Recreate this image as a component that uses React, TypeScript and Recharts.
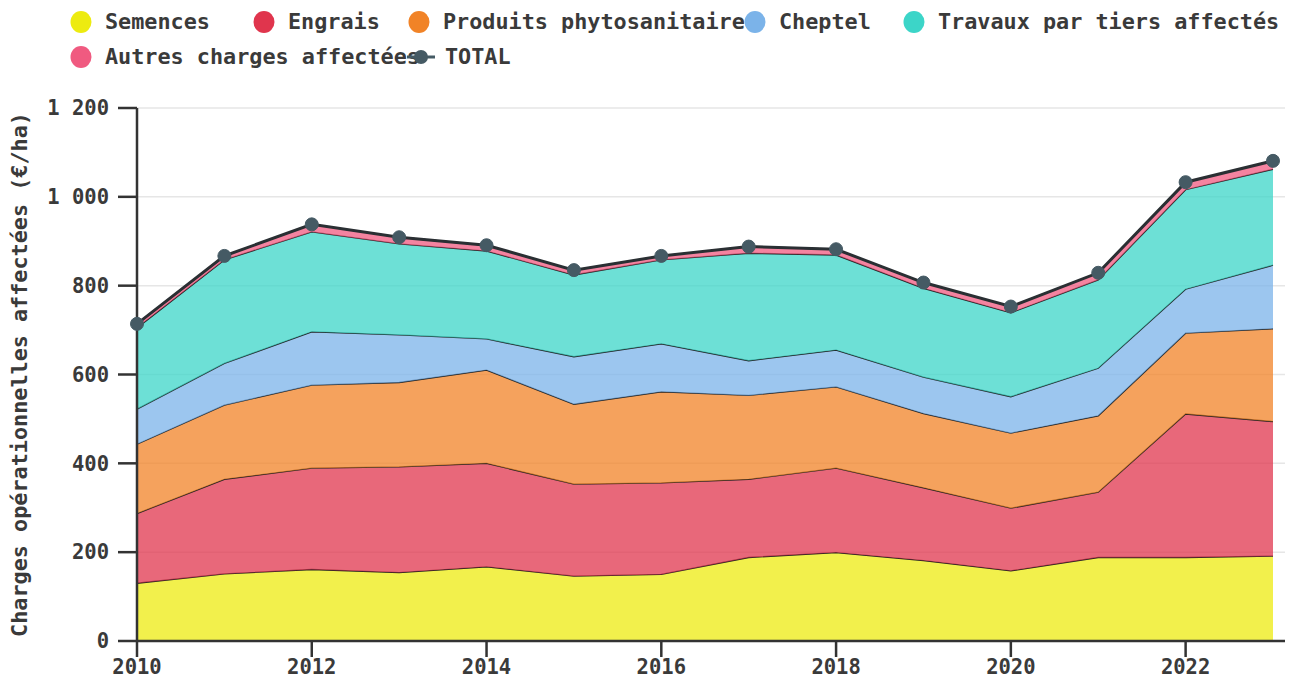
import React from "react";
import {
  ComposedChart,
  Area,
  Line,
  XAxis,
  YAxis,
  CartesianGrid,
  Legend,
} from "recharts";

const years = [2010, 2011, 2012, 2013, 2014, 2015, 2016, 2017, 2018, 2019, 2020, 2021, 2022, 2023];
const semences = [130, 151, 161, 154, 167, 146, 150, 188, 199, 181, 158, 188, 188, 191];
const engrais = [157, 213, 228, 238, 233, 207, 206, 176, 190, 164, 141, 147, 323, 303];
const phyto = [156, 167, 187, 190, 210, 180, 205, 189, 183, 167, 169, 172, 182, 209];
const cheptel = [79, 94, 120, 107, 70, 107, 108, 78, 83, 82, 82, 107, 99, 143];
const travaux = [183, 233, 225, 205, 198, 184, 189, 242, 214, 200, 189, 199, 224, 216];
const autres = [9, 9, 17, 15, 13, 11, 9, 15, 13, 13, 14, 16, 17, 19];
const total = [714, 867, 938, 909, 891, 835, 867, 888, 882, 807, 753, 829, 1033, 1081];

const xTicks = [2010, 2012, 2014, 2016, 2018, 2020, 2022];
const yTicks = [0, 200, 400, 600, 800, 1000, 1200];

const seriesNames = {
  semences: "Semences",
  engrais: "Engrais",
  phyto: "Produits phytosanitaires",
  cheptel: "Cheptel",
  travaux: "Travaux par tiers affectés",
  autres: "Autres charges affectées",
  total: "TOTAL",
};
const yTitle = "Charges opérationnelles affectées (€/ha)";

const colors = {
  semences: "#edeb10",
  engrais: "#e0354d",
  phyto: "#f18327",
  cheptel: "#7bb3e9",
  travaux: "#3cd5c8",
  autres: "#f05a80",
  total: "#455a64",
};

const data = years.map((y, i) => ({
  year: y,
  semences: semences[i],
  engrais: engrais[i],
  phyto: phyto[i],
  cheptel: cheptel[i],
  travaux: travaux[i],
  autres: autres[i],
  total: total[i],
}));

const FONT = "'DejaVu Sans Mono', monospace";
const TEXT = "#3a3a3a";

const legendLayout: { key: keyof typeof seriesNames; cx: number; cy: number }[] = [
  { key: "semences", cx: 81, cy: 21.5 },
  { key: "engrais", cx: 264, cy: 21.5 },
  { key: "phyto", cx: 419, cy: 21.5 },
  { key: "cheptel", cx: 755, cy: 21.5 },
  { key: "travaux", cx: 914, cy: 21.5 },
  { key: "autres", cx: 81, cy: 57 },
  { key: "total", cx: 421, cy: 57 },
];

const LegendContent = () => (
  <div style={{ position: "relative", width: 1297, height: 80 }}>
    {legendLayout.map((it) => (
      <React.Fragment key={it.key}>
        <div
          style={{
            position: "absolute",
            left: it.cx + 24,
            top: it.cy - 13,
            fontFamily: FONT,
            fontWeight: "bold",
            fontSize: 21.8,
            color: TEXT,
            whiteSpace: "nowrap",
            lineHeight: "26px",
          }}
        >
          {seriesNames[it.key]}
        </div>
        {it.key === "total" ? (
          <svg
            style={{ position: "absolute", left: it.cx - 16, top: it.cy - 10 }}
            width={32}
            height={20}
          >
            <line x1={2} y1={10} x2={30} y2={10} stroke={colors.total} strokeWidth={3} />
            <circle cx={16} cy={10} r={7} fill={colors.total} />
          </svg>
        ) : (
          <svg
            style={{ position: "absolute", left: it.cx - 11, top: it.cy - 11 }}
            width={22}
            height={22}
          >
            <ellipse cx={11} cy={11} rx={10.5} ry={11} fill={colors[it.key]} />
          </svg>
        )}
      </React.Fragment>
    ))}
  </div>
);

const fmt = (v: number) => {
  const s = String(v);
  return s.length > 3 ? s.slice(0, s.length - 3) + " " + s.slice(-3) : s;
};

export default function App() {
  const areaKeys: (keyof typeof seriesNames)[] = ["semences", "engrais", "phyto", "cheptel", "travaux", "autres"];
  return (
    <div style={{ position: "absolute", left: 0, top: 0, width: 1297, height: 684, background: "#fff" }}>
      <ComposedChart
        width={1297}
        height={684}
        data={data}
        margin={{ top: 28, right: 12, bottom: 0, left: 0 }}
      >
        <Legend
          verticalAlign="top"
          align="left"
          content={<LegendContent />}
          wrapperStyle={{ top: 0, left: 0, width: 1297, height: 80 }}
        />
        <CartesianGrid vertical={false} stroke="#e6e6e6" strokeWidth={1.5} />
        <XAxis
          dataKey="year"
          type="number"
          domain={[2010, 2023]}
          ticks={xTicks}
          padding={{ left: 0, right: 12 }}
          height={43}
          tickSize={16}
          tickMargin={2}
          axisLine={{ stroke: "#333", strokeWidth: 2.5 }}
          tickLine={{ stroke: "#333", strokeWidth: 2.5 }}
          tick={{ fill: TEXT, fontFamily: FONT, fontWeight: "bold", fontSize: 20.5 }}
        />
        <YAxis
          type="number"
          domain={[0, 1200]}
          ticks={yTicks}
          width={137}
          tickSize={19}
          tickMargin={9}
          tickFormatter={fmt}
          axisLine={{ stroke: "#333", strokeWidth: 2.5 }}
          tickLine={{ stroke: "#333", strokeWidth: 2.5 }}
          tick={{ fill: TEXT, fontFamily: FONT, fontWeight: "bold", fontSize: 20.5 }}
          label={{
            value: yTitle,
            angle: -90,
            position: "insideLeft",
            offset: 19,
            style: {
              textAnchor: "middle",
              fill: TEXT,
              fontFamily: FONT,
              fontWeight: "bold",
              fontSize: 21.8,
            },
          }}
        />
        {areaKeys.map((k) => (
          <Area
            key={k}
            type="linear"
            dataKey={k}
            name={seriesNames[k]}
            stackId="a"
            fill={colors[k]}
            fillOpacity={0.75}
            stroke="#222"
            strokeWidth={1.3}
            isAnimationActive={false}
            dot={false}
            activeDot={false}
          />
        ))}
        <Line
          type="linear"
          dataKey="total"
          name={seriesNames.total}
          stroke="#2a2f33"
          strokeWidth={3}
          dot={{ r: 6.5, fill: colors.total, stroke: colors.total, strokeWidth: 1 }}
          activeDot={false}
          isAnimationActive={false}
        />
      </ComposedChart>
    </div>
  );
}
